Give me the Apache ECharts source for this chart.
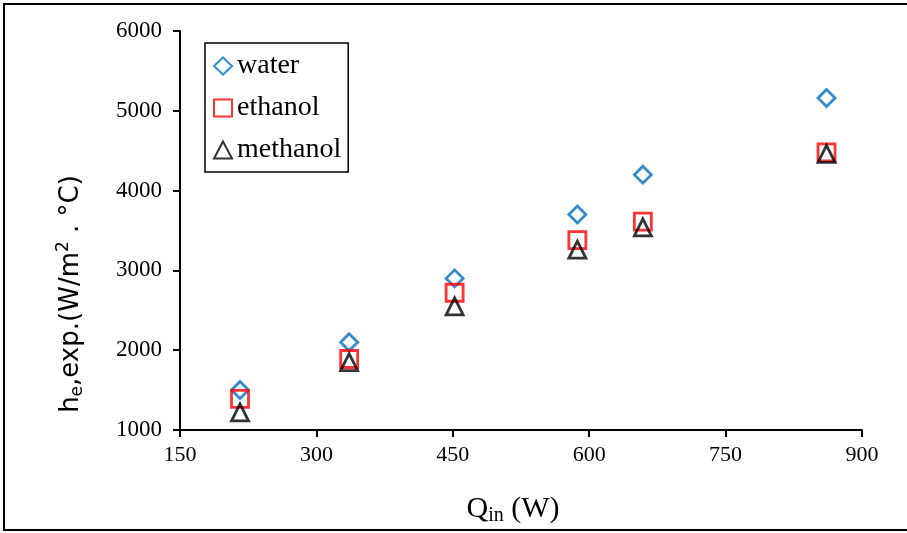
<!DOCTYPE html>
<html>
<head>
<meta charset="utf-8">
<script src="https://cdn.jsdelivr.net/npm/echarts@6/dist/echarts.min.js"></script>
<style>
  html, body { margin: 0; padding: 0; background: #fff; }
  #chart { width: 907px; height: 533px; }
</style>
</head>
<body>
<div id="chart"></div>
<script>
// Heat input (W) at each test point
var heatInput = [216, 336, 452, 587, 659, 861];
// Evaporator heat transfer coefficient, W/m2.°C
var waterH = [1500, 2100, 2900, 3700, 4200, 5160];
var ethanolH = [1390, 1890, 2720, 3380, 3610, 4480];
var methanolH = [1220, 1850, 2550, 3260, 3540, 4460];

var xTicks = [150, 300, 450, 600, 750, 900];
var yTicks = [1000, 2000, 3000, 4000, 5000, 6000];

var seriesNames = ['water', 'ethanol', 'methanol'];

function pairs(ys) {
  return heatInput.map(function (x, i) { return [x, ys[i]]; });
}

var serif = '"Liberation Serif", "Times New Roman", serif';
var sans = '"DejaVu Sans", sans-serif';

function hollow(name, symbol, color, ys) {
  return {
    name: name,
    type: 'scatter',
    symbol: symbol,
    symbolSize: 17,
    data: pairs(ys),
    itemStyle: { color: 'rgba(0,0,0,0)', borderColor: color, borderWidth: 2.8 },
    emphasis: { disabled: true }
  };
}

var chart = echarts.init(document.getElementById('chart'), null, { renderer: 'canvas' });

chart.setOption({
  animation: false,
  backgroundColor: '#fff',
  grid: { left: 180, right: 45, top: 31, bottom: 103 },
  legend: {
    orient: 'vertical',
    left: 205,
    top: 43,
    padding: [8, 7, 7, 8],
    itemGap: 12,
    itemWidth: 18,
    itemHeight: 17,
    borderColor: '#000',
    borderWidth: 1.5,
    textStyle: { fontFamily: serif, fontSize: 28, color: '#000', lineHeight: 30 },
    data: seriesNames
  },
  xAxis: {
    type: 'value',
    min: xTicks[0],
    max: xTicks[xTicks.length - 1],
    interval: 150,
    name: '{q|Q}{sub|in}{q| (W)}',
    nameLocation: 'middle',
    nameGap: 62,
    nameTextStyle: {
      padding: [0, 16, 0, 0],
      rich: {
        q: { fontFamily: serif, fontSize: 30, color: '#000' },
        sub: { fontFamily: serif, fontSize: 20, color: '#000', verticalAlign: 'bottom', padding: [14, 0, 0, 0] }
      }
    },
    axisLine: { lineStyle: { color: '#000', width: 2 } },
    axisTick: { inside: false, length: 7, lineStyle: { color: '#000', width: 2 } },
    axisLabel: { fontFamily: serif, fontSize: 22, color: '#000', margin: 14 },
    splitLine: { show: false }
  },
  yAxis: {
    type: 'value',
    min: yTicks[0],
    max: yTicks[yTicks.length - 1],
    interval: 1000,
    axisLine: { show: true, lineStyle: { color: '#000', width: 2 } },
    axisTick: { show: true, inside: false, length: 7, lineStyle: { color: '#000', width: 2 } },
    axisLabel: {
      fontFamily: serif, fontSize: 23, color: '#000', margin: 18,
      formatter: function (v) { return String(v); }
    },
    splitLine: { show: false }
  },
  graphic: [
    {
      // outer frame: top, left and bottom edges
      type: 'polyline',
      silent: true,
      shape: { points: [[920, 4], [4, 4], [4, 530], [920, 530]] },
      style: { fill: 'none', stroke: '#000', lineWidth: 2 }
    },
    {
      type: 'text',
      silent: true,
      x: 71,
      y: 294,
      rotation: Math.PI / 2,
      style: {
        text: '{a|h}{s|e}{a|,exp.(W/m}{p|2}{a| . °C)}',
        align: 'center',
        verticalAlign: 'middle',
        rich: {
          a: { fontFamily: sans, fontSize: 26, fill: '#000' },
          s: { fontFamily: sans, fontSize: 17, fill: '#000', padding: [14, 0, 0, 0] },
          p: { fontFamily: sans, fontSize: 17, fill: '#000', padding: [0, 0, 14, 0] }
        }
      }
    }
  ],
  series: [
    hollow('water', 'diamond', '#0070C0', waterH),
    hollow('ethanol', 'rect', '#FF0000', ethanolH),
    hollow('methanol', 'triangle', '#000000', methanolH)
  ]
});
</script>
</body>
</html>
